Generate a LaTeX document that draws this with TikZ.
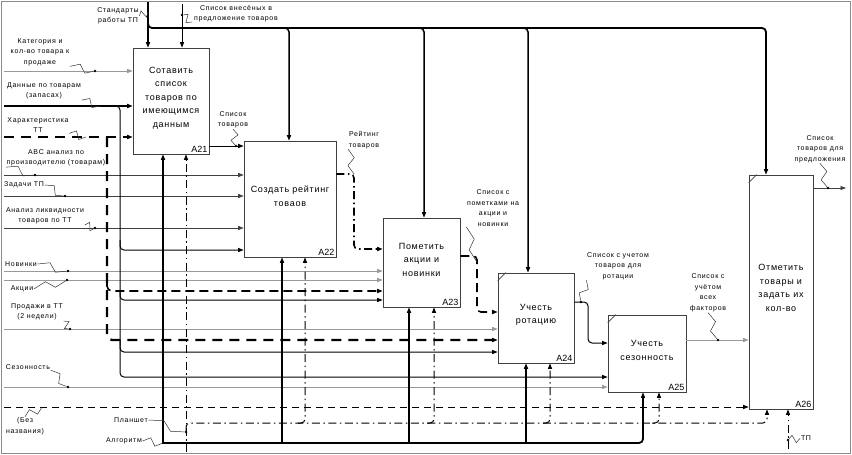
\documentclass[tikz,border=0pt]{standalone}
\usepackage{fontspec}
\setmainfont{Liberation Sans}
\newfontfamily\lblfam[LetterSpace=10]{Liberation Sans}
\newfontfamily\boxfam[LetterSpace=8]{Liberation Sans}
\usetikzlibrary{arrows.meta,calc}
\newcommand\zig[2]{\draw[squig] (#1) -- ($(#1)!0.38!(#2)!4pt!90:(#2)$) -- ($(#1)!0.62!(#2)!4pt!-90:(#2)$) -- (#2);}
\tikzset{
  arr/.style={-{Triangle[length=5.5pt,width=4pt]}},
  thk/.style={line width=1.8pt,black},
  thkb/.style={line width=1.5pt,black},
  med/.style={line width=1pt,black},
  thn/.style={line width=0.7pt,black!75},
  gry/.style={line width=0.8pt,black!40},
  dsh/.style={line width=1pt,black,dash pattern=on 7pt off 5pt},
  dshthk/.style={line width=2.3pt,black,dash pattern=on 10pt off 7pt},
  dshmid/.style={line width=1.6pt,black,dash pattern=on 9pt off 5pt},
  dd/.style={line width=1pt,black,dash pattern=on 8pt off 3.5pt on 1.5pt off 3.5pt},
  ddthk/.style={line width=1.6pt,black,dash pattern=on 8pt off 3.5pt on 1.5pt off 3.5pt},
  squig/.style={line width=0.5pt,black!80},
  lbl/.style={align=center,inner sep=0.5pt,font=\lblfam\fontsize{7}{10.5}\selectfont},
  boxs/.style={draw=black!75,line width=0.6pt,fill=white,inner sep=0pt},
  boxt/.style={align=center,inner sep=0pt,font=\boxfam\fontsize{9}{13.5}\selectfont},
  num/.style={anchor=south east,inner sep=1.8pt,font=\fontsize{9}{10}\selectfont},
  dotm/.style={fill=black,circle,inner sep=0pt,minimum size=2.8pt}
}
\begin{document}
\begin{tikzpicture}[x=1pt,y=-1pt]
\useasboundingbox (0,0) rectangle (852,455);
\draw[black!45,line width=1.6pt] (1.5,1.5) rectangle (850.5,453.5);

% boxes
\node[boxs,minimum width=76pt,minimum height=106pt] (A21) at (171,101) {};
\node[boxs,minimum width=92pt,minimum height=116pt] (A22) at (290,199) {};
\node[boxs,minimum width=77pt,minimum height=89pt] (A23) at (421.5,262.5) {};
\node[boxs,minimum width=76pt,minimum height=90pt] (A24) at (536,318) {};
\node[boxs,minimum width=78pt,minimum height=77pt] (A25) at (647,353.5) {};
\node[boxs,minimum width=64pt,minimum height=234pt] (A26) at (781,292) {};
\node[boxt] (t21) at ([yshift=3pt]A21.center) {Сотавить\\список\\товаров по\\имеющимся\\данным};
\node[boxt] (t22) at ([yshift=3pt]A22.center) {Создать рейтинг\\товаов};
\node[boxt] (t23) at ([yshift=3pt]A23.center) {Пометить\\акции и\\новинки};
\node[boxt] (t24) at ([yshift=3pt]A24.center) {Учесть\\ротацию};
\node[boxt] (t25) at ([yshift=3pt]A25.center) {Учесть\\сезонность};
\node[boxt] (t26) at ([yshift=4pt]A26.center) {Отметить\\товары и\\задать их\\кол-во};
\node[num] (n21) at (A21.south east) {A21};
\node[num] (n22) at (A22.south east) {A22};
\node[num] (n23) at (A23.south east) {A23};
\node[num] (n24) at (A24.south east) {A24};
\node[num] (n25) at (A25.south east) {A25};
\node[num] (n26) at (A26.south east) {A26};
\foreach \b in {A24,A25,A26}{
  \draw[black!75,line width=0.6pt] ($(\b.north west)+(0,8)$) -- ($(\b.north west)+(8,0)$);
}

% free ends
\coordinate (inStd) at (148,2);
\coordinate (inVn) at (182,4);
\coordinate (inKat) at (4,71);
\coordinate (inDan) at (4,106);
\coordinate (inHar) at (4,137);
\coordinate (inABC) at (4,175);
\coordinate (inZad) at (4,196);
\coordinate (inAn) at (4,228);
\coordinate (inNov) at (4,271);
\coordinate (inAk) at (4,280);
\coordinate (inPr) at (4,329);
\coordinate (inSez) at (4,387);
\coordinate (inBez) at (4,407);
\coordinate (inAlg) at (163,444);
\coordinate (inPl) at (186,452);
\coordinate (inTP) at (788,449);
\coordinate (outPred) at (846,188);

% top controls
\draw[thk,arr] (inStd) -- (inStd |- A21.north);
\draw[thk,arr,rounded corners=4pt] (148,20) -- (148,28) -- (766,28) -- (766,0 |- A26.north);
\draw[thkb,arr,rounded corners=4pt] (282,28) -- (289,28) -- (289,0 |- A22.north);
\draw[thkb,arr,rounded corners=4pt] (417,28) -- (424,28) -- (424,0 |- A23.north);
\draw[thkb,arr,rounded corners=4pt] (521,28) -- (528,28) -- (528,0 |- A24.north);
\draw[med,arr] (inVn) -- (inVn |- A21.north);

% left inputs
\draw[gry,arr] (inKat) -- (A21.west |- inKat);
\draw[thk,arr] (inDan) -- (A21.west |- inDan);
\draw[dshthk,arr] (inHar) -- (A21.west |- inHar);
\draw[thn,arr] (inABC) -- (A22.west |- inABC);
\draw[thn,arr] (inZad) -- (A22.west |- inZad);
\draw[thn,arr] (inAn) -- (A22.west |- inAn);
\draw[gry,arr] (inNov) -- (A23.west |- inNov);
\draw[gry,arr] (inAk) -- (A23.west |- inAk);
\draw[gry,arr] (inPr) -- (A24.west |- inPr);
\draw[gry,arr] (inSez) -- (A25.west |- inSez);
\draw[dsh,arr] (inBez) -- (A26.west |- inBez);

% dashed branch x=107
\draw[dshthk,arr,rounded corners=5pt] (107,137) -- (107,340) -- (A24.west |- 0,340);
\draw[dshmid,arr,rounded corners=5pt] (107,283) -- (107,291) -- (A23.west |- 0,291);

% branches x=120
\draw[med,arr,rounded corners=4pt] (114,106) -- (120,106) -- (120,250) -- (A22.west |- 0,250);
\draw[med,arr,rounded corners=4pt] (120,240) -- (120,300) -- (A23.west |- 0,300);
\draw[med,arr,rounded corners=4pt] (120,290) -- (120,352) -- (A24.west |- 0,352);
\draw[med,arr,rounded corners=4pt] (120,340) -- (120,377) -- (A25.west |- 0,377);

% outputs
\draw[med,arr] (A21.east |- 0,146) -- (A22.west |- 0,146);
\draw[ddthk,arr,rounded corners=4pt] (A22.east |- 0,174) -- (354,174) -- (354,249) -- (A23.west |- 0,249);
\draw[dshmid,arr,rounded corners=4pt] (A23.east |- 0,256) -- (477,256) -- (477,312) -- (A24.west |- 0,312);
\draw[med,arr,rounded corners=4pt] (A24.east |- 0,302) -- (588,302) -- (588,343) -- (A25.west |- 0,343);
\draw[gry,arr] (A25.east |- 0,340) -- (A26.west |- 0,340);
\draw[thn,arr] (A26.east |- outPred) -- (outPred);

% mechanisms: Алгоритм
\draw[thk,arr] (inAlg) -- (inAlg |- A21.south);
\draw[thk,arr,rounded corners=4pt] (163,443) -- (643,443) -- (643,0 |- A25.south);
\draw[thk,arr] (282,443) -- (282,0 |- A22.south);
\draw[thk,arr] (409,443) -- (409,0 |- A23.south);
\draw[thk,arr] (526,443) -- (526,0 |- A24.south);

% mechanisms: Планшет
\draw[dd,arr] (inPl) -- (inPl |- A21.south);
\draw[dd,arr,rounded corners=4pt] (186,431) -- (186,423) -- (767,423) -- (767,0 |- A26.south);
\draw[dd,arr,rounded corners=4pt] (298,423) -- (305,423) -- (305,0 |- A22.south);
\draw[dd,arr,rounded corners=4pt] (427,423) -- (434,423) -- (434,0 |- A23.south);
\draw[dd,arr,rounded corners=4pt] (543,423) -- (550,423) -- (550,0 |- A24.south);
\draw[dd,arr,rounded corners=4pt] (652,423) -- (659,423) -- (659,0 |- A25.south);
\draw[dd,arr] (inTP) -- (inTP |- A26.south);

% labels
\node[lbl] (lStd) at (118,16) {Стандарты\\работы ТП};
\node[lbl] (lVn) at (236,14) {Список внесёных в\\предложение товаров};
\node[lbl] (lKat) at (40,52) {Категория и\\кол-во товара к\\продаже};
\node[lbl] (lDan) at (44,91) {Данные по товарам\\(запасах)};
\node[lbl] (lHar) at (38,125) {Характеристика\\ТТ};
\node[lbl] (lABC) at (56,158) {ABC анализ по\\производителю (товарам)};
\node[lbl] (lZad) at (24,185) {Задачи ТП};
\node[lbl] (lAn) at (45,216) {Анализ ликвидности\\товаров по ТТ};
\node[lbl] (lNov) at (21,264) {Новинки};
\node[lbl] (lAk) at (22,289) {Акции};
\node[lbl] (lPr) at (37,312) {Продажи в ТТ\\(2 недели)};
\node[lbl] (lSez) at (28,367) {Сезонность};
\node[lbl] (lBez) at (25,426) {(Без\\названия)};
\node[lbl] (lPl) at (131,420) {Планшет};
\node[lbl] (lAlg) at (124,441) {Алгоритм};
\node[lbl] (lSt) at (233,120) {Список\\товаров};
\node[lbl] (lRt) at (364,140) {Рейтинг\\товаров};
\node[lbl] (lPm) at (493,208) {Список с\\пометками на\\акции и\\новинки};
\node[lbl] (lRot) at (618,266) {Список с учетом\\товаров для\\ротации};
\node[lbl] (lVse) at (708,293) {Список с\\учётом\\всех\\факторов};
\node[lbl] (lPred) at (820,149) {Список\\товаров для\\предложения};
\node[lbl] (lTP) at (806,438) {ТП};

% dots
\node[dotm] (dVn) at (182,15) {};
\node[dotm] (dKat) at (95,71) {};
\node[dotm] (dABC) at (35,175) {};
\node[dotm] (dZad) at (65,196) {};
\node[dotm] (dAn) at (95,228) {};
\node[dotm] (dNov) at (68,271) {};
\node[dotm] (dAk) at (67,280) {};
\node[dotm] (dPr) at (70,329) {};
\node[dotm] (dSez) at (68,387) {};
\node[dotm] (dPl) at (186,432) {};
\node[dotm] (dSt) at (236,146) {};
\node[dotm] (dRot) at (581,302) {};
\node[dotm] (dVse) at (718,340) {};
\node[dotm] (dPred) at (828,188) {};
\node[dotm] (dTP) at (788,440) {};
\coordinate (cStd) at (148,12);
\coordinate (cDan) at (100,106);
\coordinate (cHar) at (86,137);
\coordinate (cBez) at (42,407);
\coordinate (cAlg) at (163,443);
\coordinate (cRt) at (354,174);
\coordinate (cPm) at (477,262);
\coordinate (cVn) at (192,22);

% squiggles
\zig{lStd.east}{cStd}
\zig{cVn}{dVn}
\zig{lKat.south east}{dKat}
\zig{lDan.south east}{cDan}
\zig{lHar.south east}{cHar}
\zig{lABC.south west}{dABC}
\zig{lZad.east}{dZad}
\zig{lAn.south east}{dAn}
\zig{lNov.east}{dNov}
\zig{lAk.east}{dAk}
\zig{lPr.south east}{dPr}
\zig{lSez.south east}{dSez}
\zig{lBez.north}{cBez}
\zig{lPl.east}{dPl}
\zig{lAlg.east}{cAlg}
\zig{lSt.south}{dSt}
\zig{lRt.south west}{cRt}
\zig{lPm.south west}{cPm}
\zig{lRot.south west}{dRot}
\zig{lVse.south}{dVse}
\zig{lPred.south}{dPred}
\zig{lTP.west}{dTP}
\end{tikzpicture}
\end{document}
